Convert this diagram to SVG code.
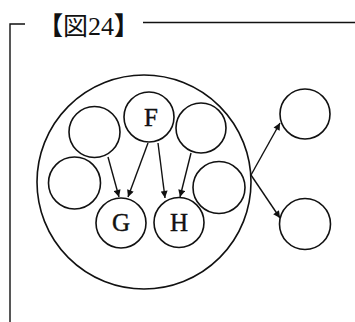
<svg xmlns="http://www.w3.org/2000/svg" width="355" height="322" viewBox="0 0 355 322">
<style>
.c{fill:none;stroke:#111;stroke-width:1.6}
.l{fill:none;stroke:#111;stroke-width:1.4}
.e{stroke:#111;stroke-width:1.4;fill:none;marker-end:url(#ah)}
.t{font-family:"Liberation Serif","Noto Sans CJK JP",serif;fill:#111}
.n{font-size:25px;text-anchor:middle;stroke:#111;stroke-width:0.4}
</style>
<defs>
<marker id="ah" viewBox="0 0 10 10" refX="10" refY="5" markerWidth="8" markerHeight="7" markerUnits="userSpaceOnUse" orient="auto">
<path d="M0,0 L10,5 L0,10 z" fill="#111"/>
</marker>
</defs>
<rect width="355" height="322" fill="#fff"/>
<g id="frame">
<path class="l" d="M10,322 V24 H25"/>
<path class="l" d="M143,22.5 H355"/>
<text class="t" x="38" y="35" font-size="25"><tspan font-weight="900">【</tspan>図<tspan font-size="26">24</tspan><tspan font-weight="900">】</tspan></text>
</g>
<g id="outer"><circle class="c" cx="144" cy="182" r="107"/></g>
<g id="nF"><circle class="c" cx="149" cy="117" r="25"/><text class="t n" x="151" y="126">F</text></g>
<g id="nTL"><circle class="c" cx="94.5" cy="132" r="25.5"/></g>
<g id="nTR"><circle class="c" cx="201" cy="128" r="25"/></g>
<g id="nL"><circle class="c" cx="74.5" cy="183" r="26"/></g>
<g id="nR"><circle class="c" cx="219" cy="187.5" r="26"/></g>
<g id="nG"><circle class="c" cx="121" cy="223" r="25"/><text class="t n" x="121" y="231">G</text></g>
<g id="nH"><circle class="c" cx="179" cy="222.5" r="25"/><text class="t n" x="179" y="230.5">H</text></g>
<g id="nO1"><circle class="c" cx="305" cy="114" r="25"/></g>
<g id="nO2"><circle class="c" cx="305" cy="224" r="25.5"/></g>
<g id="connectors">
<line class="e" x1="108" y1="157" x2="119" y2="197"/>
<line class="e" x1="148" y1="143" x2="128" y2="197"/>
<line class="e" x1="158" y1="143" x2="165" y2="198"/>
<line class="e" x1="191" y1="153" x2="180" y2="197"/>
<line class="e" x1="251" y1="175" x2="280" y2="123"/>
<line class="e" x1="251" y1="175" x2="280" y2="218"/>
</g>
</svg>
